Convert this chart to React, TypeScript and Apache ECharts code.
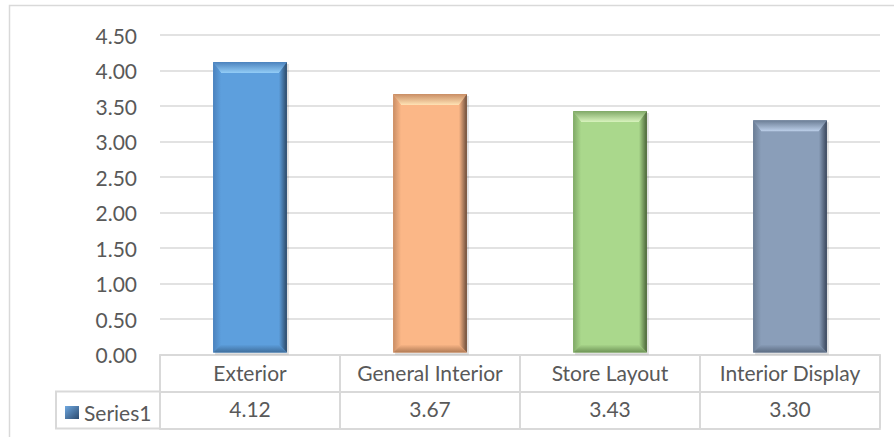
import React, { useEffect, useRef } from "react";
import * as echarts from "echarts";

const categories = ["Exterior", "General Interior", "Store Layout", "Interior Display"];
const values = [4.12, 3.67, 3.43, 3.3];
const seriesName = "Series1";
const yTicks = { min: 0, max: 4.5, interval: 0.5 };

const palettes = [
  { main: "#5d9fdd", top: "#93cdf7", left: "#4b82bd", right: "#2c4866", bottom: "#3f6e9c" },
  { main: "#fbb787", top: "#ffe2b4", left: "#c98d64", right: "#6a4c3a", bottom: "#b07a55" },
  { main: "#aad88c", top: "#d8f3bd", left: "#7fa866", right: "#4a6338", bottom: "#6e9356" },
  { main: "#8a9eb9", top: "#bccfe9", left: "#6a7c94", right: "#39455a", bottom: "#5c6c82" },
];

const TEXT = "#595959";
const LINE = "#d9d9d9";
const FONT = "Lato, 'Open Sans', sans-serif";
const FS = 21;

function lin(x2: number, y2: number, a: string, b: string) {
  return { type: "linear", x: 0, y: 0, x2, y2, colorStops: [{ offset: 0, color: a }, { offset: 1, color: b }] };
}

export default function App() {
  const ref = useRef<HTMLDivElement>(null);
  useEffect(() => {
    if (!ref.current) return;
    const chart = echarts.init(ref.current, null, { renderer: "svg" });
    chart.setOption({
      animation: false,
      textStyle: { fontFamily: FONT },
      grid: { left: 160, right: 14, top: 35, bottom: 82.5, containLabel: false },
      legend: {
        data: [{ name: seriesName, icon: "rect" }],
        left: 60,
        top: 397,
        itemWidth: 14,
        itemHeight: 13,
        itemGap: 5,
        textStyle: { color: TEXT, fontSize: FS, fontFamily: FONT, padding: [0, 0, 0, 0] },
        selectedMode: false,
      },
      xAxis: [
        {
          type: "category",
          data: categories,
          position: "bottom",
          axisLine: { show: true, lineStyle: { color: LINE, width: 2 } },
          axisTick: { show: true, length: 74, lineStyle: { color: LINE, width: 2 } },
          axisLabel: { color: TEXT, fontSize: FS, fontFamily: FONT, margin: 7, interval: 0 },
        },
        {
          type: "category",
          data: values.map((v) => v.toFixed(2)),
          position: "bottom",
          offset: 37,
          axisLine: { show: true, lineStyle: { color: LINE, width: 2 } },
          axisTick: { show: false },
          axisLabel: { color: TEXT, fontSize: FS, fontFamily: FONT, margin: 6.5, interval: 0 },
        },
        {
          type: "category",
          data: categories,
          position: "bottom",
          offset: 74,
          axisLine: { show: true, lineStyle: { color: LINE, width: 2 } },
          axisTick: { show: false },
          axisLabel: { show: false },
        },
      ],
      yAxis: {
        type: "value",
        min: yTicks.min,
        max: yTicks.max,
        interval: yTicks.interval,
        axisLine: { show: false },
        axisTick: { show: false },
        axisLabel: {
          color: TEXT,
          fontSize: FS,
          fontFamily: FONT,
          margin: 23,
          formatter: (v: number) => v.toFixed(2),
        },
        splitLine: { lineStyle: { color: LINE, width: 1.5 } },
      },
      graphic: [
        {
          type: "rect",
          shape: { x: 9.5, y: 5.5, width: 1000, height: 1000 },
          style: { fill: "none", stroke: LINE, lineWidth: 1.5 },
          silent: true,
          z: -10,
        },
        {
          type: "rect",
          shape: { x: 56, y: 391.5, width: 104, height: 37 },
          style: { fill: "none", stroke: LINE, lineWidth: 2 },
          silent: true,
        },
      ],
      series: [
        {
          name: seriesName,
          type: "custom",
          itemStyle: { color: lin(1, 1, "#6fa8e0", "#2c4a6e") },
          encode: { x: 0, y: 1 },
          data: values.map((v, i) => [i, v]),
          renderItem: (params: any, api: any) => {
            const idx = api.value(0);
            const val = api.value(1);
            const p = palettes[idx % palettes.length];
            const top = api.coord([idx, val]);
            const base = api.coord([idx, 0]);
            const bw = api.size([1, 0])[0] * 0.41;
            const l = top[0] - bw / 2;
            const r = top[0] + bw / 2;
            const y0 = top[1];
            const y1 = base[1] - 2;
            const b = 8;
            const bt = 11;
            return {
              type: "group",
              children: [
                {
                  type: "rect",
                  shape: { x: l + 2, y: y0 + 2, width: bw, height: y1 - y0 },
                  style: { fill: "rgba(0,0,0,0.12)" },
                },
                {
                  type: "rect",
                  shape: { x: l, y: y0, width: bw, height: y1 - y0 },
                  style: { fill: p.main },
                },
                {
                  type: "polygon",
                  shape: { points: [[l, y0], [r, y0], [r - b, y0 + bt], [l + b, y0 + bt]] },
                  style: { fill: lin(0, 1, p.left, p.top) },
                },
                {
                  type: "polygon",
                  shape: { points: [[l, y0], [l + b, y0 + bt], [l + b, y1 - b], [l, y1]] },
                  style: { fill: lin(1, 0, p.left, p.main) },
                },
                {
                  type: "polygon",
                  shape: { points: [[r, y0], [r, y1], [r - b, y1 - b], [r - b, y0 + bt]] },
                  style: { fill: lin(1, 0, p.main, p.right) },
                },
                {
                  type: "polygon",
                  shape: { points: [[l, y1], [l + b, y1 - b], [r - b, y1 - b], [r, y1]] },
                  style: { fill: lin(0, 1, p.main, p.bottom) },
                },
              ],
            };
          },
        },
      ],
    });
    return () => chart.dispose();
  }, []);
  return (
    <div
      ref={ref}
      style={{ position: "fixed", left: 0, top: 0, width: 894, height: 437, background: "#ffffff" }}
    />
  );
}
